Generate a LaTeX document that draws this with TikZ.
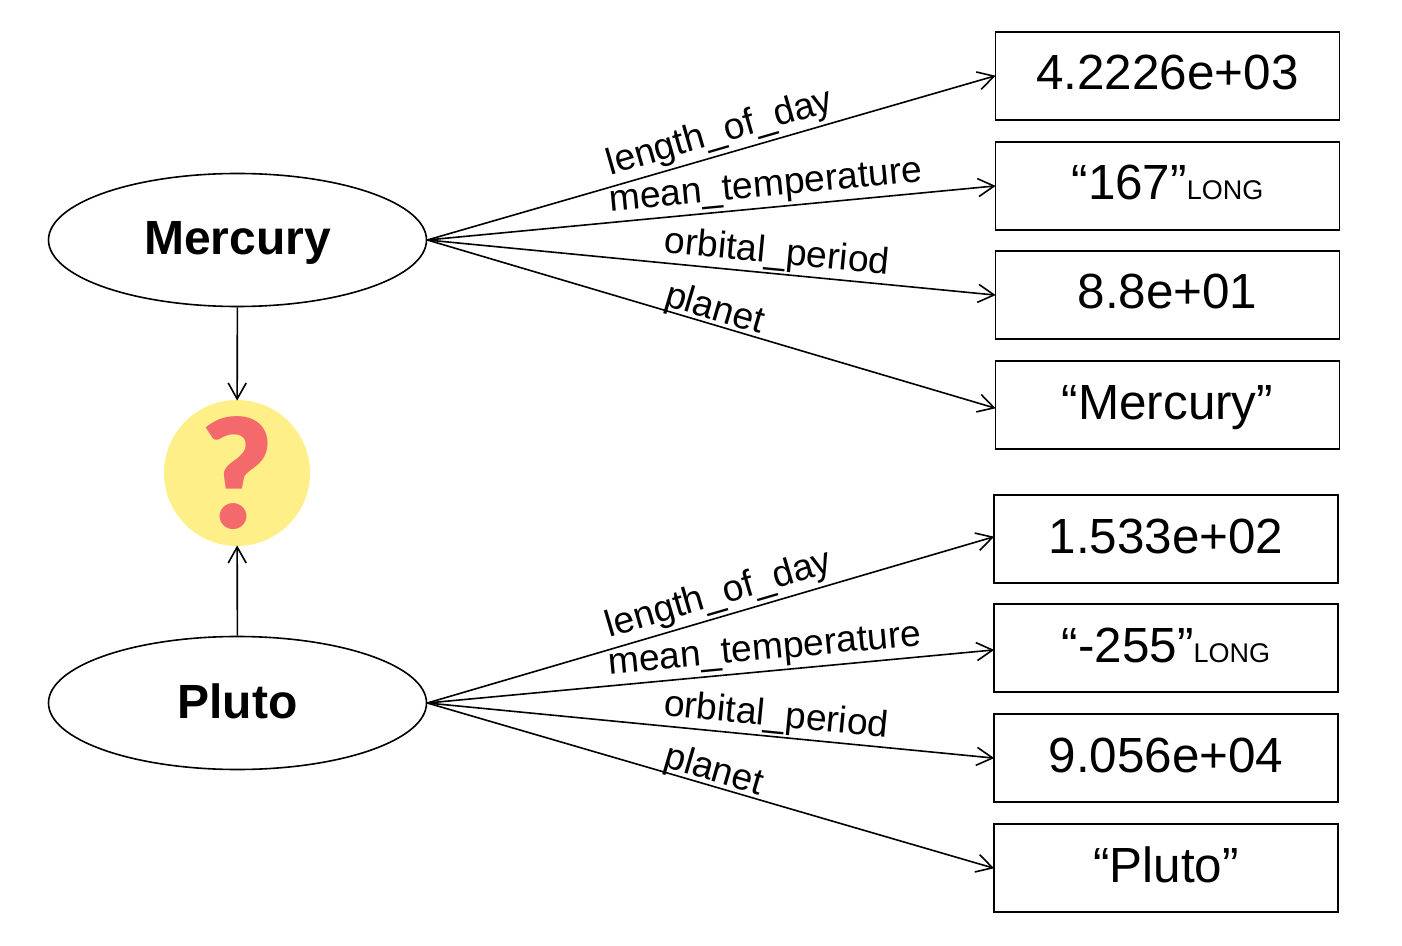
\documentclass[tikz,border=0pt]{standalone}
\usepackage{fontspec}
\setmainfont{Liberation Sans}
\newfontfamily\qfont{Lato Black}
\usepackage{tikz}
\usetikzlibrary{arrows.meta, positioning, shapes.geometric}
\definecolor{qfill}{HTML}{FFEF88}
\definecolor{qred}{HTML}{F4696B}
\newcommand{\unitlong}{{\fontsize{13.5}{16}\selectfont LONG}}

\begin{document}
\begin{tikzpicture}[
  x=0.5pt, y=-0.5pt,
  entity/.style={ellipse, draw=black, thick, minimum width=189pt, minimum height=66.5pt, inner sep=0pt, text height=19.5pt, text depth=4.5pt, font=\fontsize{24}{30}\selectfont\bfseries},
  valbox/.style={rectangle, draw=black, thick, minimum width=172pt, minimum height=44pt, inner sep=0pt, text height=18pt, text depth=4pt, font=\fontsize{24.7}{30}\selectfont},
  arr/.style={-{Straight Barb[length=8pt,width=9pt]}, thick, shorten >=-0.5pt},
  rel/.style={sloped, inner sep=1pt, font=\fontsize{18.6}{22}\selectfont}
]
\useasboundingbox (0,0) rectangle (1402,946);

\node[entity] (mercury) at (237.5,240) {Mercury};
\node[entity] (pluto) at (237.5,703) {Pluto};
\node[circle, fill=qfill, minimum size=73pt, inner sep=0pt, text=qred, font=\fontsize{76}{90}\qfont] (query) at (237,473) {?};

\node[valbox] (m1) at (1167.5,76) {4.2226e+03};
\node[valbox] (m2) at (1167.5,186) {“167”\unitlong};
\node[valbox] (m3) at (1167.5,295) {8.8e+01};
\node[valbox] (m4) at (1167.5,405) {“Mercury”};
\node[valbox] (p1) at (1166,539) {1.533e+02};
\node[valbox] (p2) at (1166,648) {“-255”\unitlong};
\node[valbox] (p3) at (1166,758) {9.056e+04};
\node[valbox] (p4) at (1166,868) {“Pluto”};

\draw[arr] (mercury) -- (query);
\draw[arr] (pluto) -- (query);

\draw[arr] (mercury.east) to node[rel, above=0.5pt, pos=0.526]{length\_of\_day} (m1.west);
\draw[arr] (mercury.east) to node[rel, above=0.5pt, pos=0.6]{mean\_temperature} (m2.west);
\draw[arr] (mercury.east) to node[rel, above=0pt, pos=0.613]{orbital\_period} (m3.west);
\draw[arr] (mercury.east) to node[rel, above=-3pt, pos=0.499]{planet} ([yshift=-1.5pt]m4.west);

\draw[arr] (pluto.east) to node[rel, above=0.5pt, pos=0.526]{length\_of\_day} ([yshift=1pt]p1.west);
\draw[arr] (pluto.east) to node[rel, above=0.5pt, pos=0.6]{mean\_temperature} ([yshift=-1pt]p2.west);
\draw[arr] (pluto.east) to node[rel, above=0pt, pos=0.613]{orbital\_period} (p3.west);
\draw[arr] (pluto.east) to node[rel, above=-3pt, pos=0.499]{planet} (p4.west);
\end{tikzpicture}
\end{document}
